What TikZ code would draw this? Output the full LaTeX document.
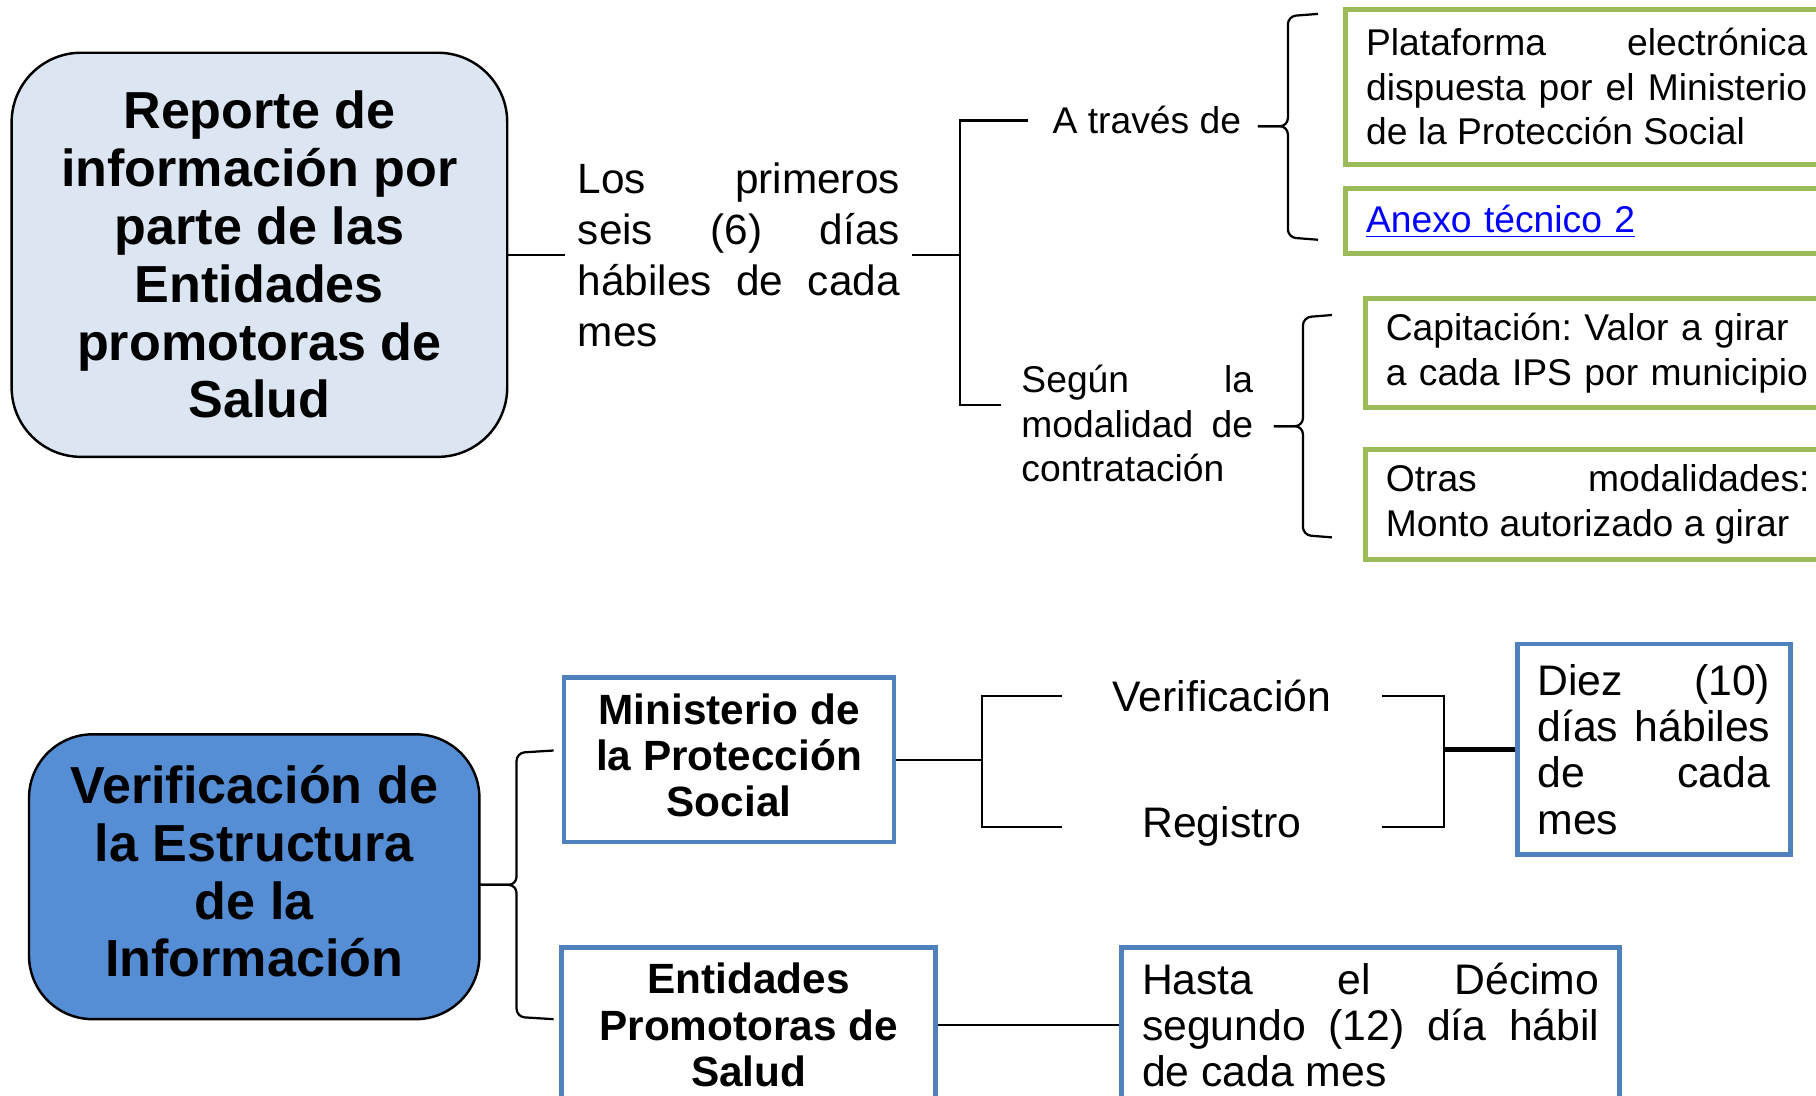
\documentclass[tikz,border=0pt]{standalone}
\usepackage{fontspec}
\setmainfont{Liberation Sans}
\definecolor{paleblue}{HTML}{DCE6F2}
\definecolor{midblue}{HTML}{558ED5}
\definecolor{greenline}{HTML}{9BBB59}
\definecolor{blueline}{HTML}{4F81BD}
\definecolor{linkblue}{HTML}{0000FF}
\tolerance=9999
\hyphenpenalty=10000
\frenchspacing

\begin{document}
\begin{tikzpicture}[x=0.02cm, y=-0.02cm, line width=1.1pt,
	titlebox/.style={draw, line width=1.2pt, align=center, font=\bfseries\fontsize{25.6}{28.4}\selectfont},
	bluebox/.style={draw=blueline, line width=2.3pt, align=center, font=\bfseries\fontsize{20.8}{22.8}\selectfont},
	textbox/.style={draw=blueline, line width=2.3pt, inner xsep=0.35cm, align=justify, font=\fontsize{21}{22.8}\selectfont},
	greenbox/.style={draw=greenline, line width=2.3pt, anchor=west, inner xsep=0.35cm, font=\fontsize{18.3}{21.9}\selectfont},
	plain/.style={inner sep=0pt, font=\fontsize{21}{22.8}\selectfont},
	curly/.style={rounded corners=0.14cm}]
	\useasboundingbox (0,0) rectangle (1568,946);
	\clip (0,0) rectangle (1568,946);
	\fill[white] (0,0) rectangle (1568,946);
	\node[titlebox, fill=paleblue, rounded corners=1.2cm, minimum width=8.56cm, minimum height=6.98cm] (R) at (224,220) {Reporte de\\información por\\parte de las\\Entidades\\promotoras de\\Salud};
	\node[anchor=west, inner xsep=0.2cm, inner ysep=0pt, text width=5.56cm, align=justify, font=\fontsize{20.8}{25}\selectfont] (L) at (488,220) {Los primeros\linebreak seis (6) días\linebreak hábiles de cada\linebreak mes};
	\node[anchor=west, inner xsep=0.4cm, font=\fontsize{18.3}{21.9}\selectfont] (A) at (888,104) {A través de};
	\node[anchor=west, inner xsep=0.34cm, text width=4.0cm, align=justify, font=\fontsize{18.3}{21.9}\selectfont] (S) at (864,366) {Según la\linebreak modalidad de\linebreak contratación};
	\node[greenbox, text width=7.62cm, align=justify, minimum height=2.68cm] (G1) at (1160,75) {Plataforma electrónica\linebreak dispuesta por el Ministerio\linebreak de la Protección Social};
	\node[greenbox, text width=7.62cm, align=left, minimum height=1.12cm] (G2) at (1160,191) {\color{linkblue}\underline{Anexo técnico 2}};
	\node[greenbox, text width=7.36cm, align=left, minimum height=1.88cm] (G3) at (1177,305) {Capitación: Valor a girar\\a cada IPS por municipio};
	\node[greenbox, text width=7.32cm, align=justify, minimum height=1.9cm] (G4) at (1177,435.5) {Otras modalidades:\linebreak Monto autorizado a girar};
	\coordinate (B1a) at (1138,207);
	\coordinate (B1b) at (1138,12);
	\coordinate (B1t) at (1086,109);
	\coordinate (B2a) at (1150,464);
	\coordinate (B2b) at (1150,272);
	\coordinate (B2t) at (1100,368);
	\draw (R.east) -- (L.west);
	\draw (L.east) -- ++(41,0) coordinate (F1);
	\draw (A.west) -| (F1) |- (S.172);
	\draw[curly] (B1b) -- ++(-26,2) |- (B1t);
	\draw[curly] (B1a) -- ++(-26,-2) |- (B1t);
	\draw[curly] (B2b) -- ++(-25,2) |- (B2t);
	\draw[curly] (B2a) -- ++(-25,-2) |- (B2t);

	\node[titlebox, fill=midblue, rounded corners=1.1cm, minimum width=7.78cm, minimum height=4.92cm] (V) at (219.5,757) {Verificación de\\la Estructura\\de la\\Información\\[-22.8pt]};
	\node[bluebox, minimum width=5.7cm, minimum height=2.84cm] (M) at (629.5,656) {Ministerio de\\la Protección\\Social\\[-18.2pt]};
	\node[bluebox, minimum width=6.46cm, minimum height=2.68cm] (E) at (646.5,885) {Entidades\\Promotoras de\\Salud};
	\node[plain, minimum width=5.48cm] (T1) at (1055,601) {Verificación};
	\node[plain, minimum width=5.48cm] (T2) at (1055,714) {Registro};
	\node[textbox, text width=4.02cm, minimum height=3.64cm] (D) at (1428,647) {Diez (10)\linebreak días hábiles\linebreak de cada\linebreak mes};
	\node[textbox, text width=7.9cm, minimum height=2.68cm] (H) at (1183.5,885) {Hasta el Décimo\linebreak segundo (12) día hábil\linebreak de cada mes};
	\coordinate (B3a) at (478,880);
	\coordinate (B3b) at (478,648);
	\coordinate (B3t) at (414,764);
	\draw[curly] (B3b) -- ++(-32,2) |- (B3t);
	\draw[curly] (B3a) -- ++(-32,-2) |- (B3t);
	\draw (M.east) -- ++(74,0) coordinate (F2);
	\draw (T1.west) -| (F2) |- (T2.west);
	\draw[line width=2.3pt] (D.west) -- ++(-61,0) coordinate (F3);
	\draw (T1.east) -| (F3) |- (T2.east);
	\draw (E.east) -- (H.west);
\end{tikzpicture}
\end{document}
